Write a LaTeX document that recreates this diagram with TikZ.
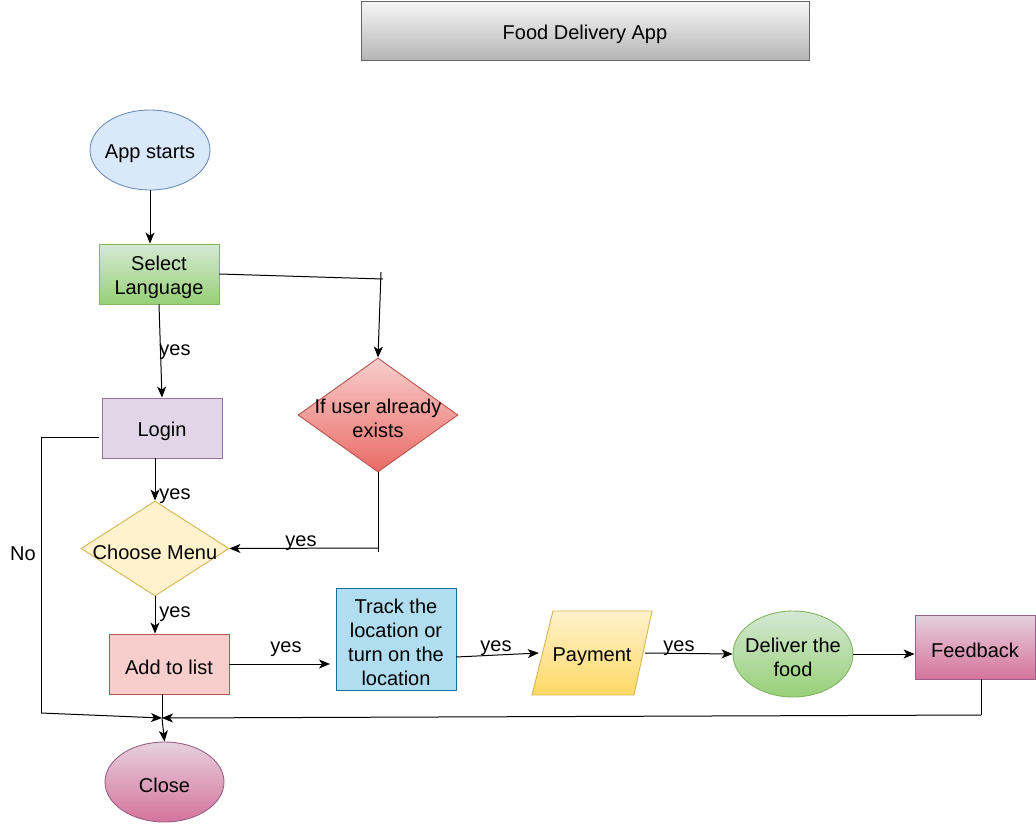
\documentclass[tikz,border=0pt]{standalone}
\usepackage{fontspec}
\setmainfont{Liberation Sans}
\usetikzlibrary{arrows.meta,shapes.geometric}
\definecolor{tiTop}{HTML}{F7F7F7}
\definecolor{tiBot}{HTML}{B5B5B5}
\definecolor{tiLine}{HTML}{666666}
\definecolor{blFill}{HTML}{DAE8FC}
\definecolor{blLine}{HTML}{6C8EBF}
\definecolor{grTop}{HTML}{D5E8D4}
\definecolor{grBot}{HTML}{97D077}
\definecolor{grLine}{HTML}{82B366}
\definecolor{puFill}{HTML}{E1D5E7}
\definecolor{puLine}{HTML}{9673A6}
\definecolor{rdTop}{HTML}{F8CECC}
\definecolor{rdBot}{HTML}{EA6B66}
\definecolor{rdFill}{HTML}{F8CECC}
\definecolor{rdLine}{HTML}{B85450}
\definecolor{ylFill}{HTML}{FFF2CC}
\definecolor{ylBot}{HTML}{FFD966}
\definecolor{ylLine}{HTML}{D6B656}
\definecolor{cyFill}{HTML}{B1DDF0}
\definecolor{cyLine}{HTML}{10739E}
\definecolor{pkTop}{HTML}{E6D0DE}
\definecolor{pkBot}{HTML}{D5739D}
\definecolor{pkLine}{HTML}{996185}
\begin{document}
\begin{tikzpicture}[x=1pt,y=-1pt,
  every node/.style={inner sep=0pt},
  txt/.style={font=\fontsize{20}{24}\selectfont, align=center, inner sep=0pt, yshift=-3.5pt},
  shp/.style={line width=0.9pt},
  rbox/.style={shp, draw, rectangle, minimum width=120pt, minimum height=60pt},
  arr/.style={line width=1pt, -{Stealth[length=11pt,width=9pt,inset=3pt]}},
  ln/.style={line width=1pt}
]
\useasboundingbox (0,0) rectangle (1036,823);

% shapes
\node[shp, draw=tiLine, rectangle, minimum width=448pt, minimum height=59pt, top color=tiTop, bottom color=tiBot] (title) at (585,30.5) {};
\node[shp, draw=blLine, fill=blFill, ellipse, minimum width=120pt, minimum height=80pt] (app) at (150,150) {};
\node[rbox, draw=grLine, top color=grTop, bottom color=grBot] (sel) at (159,274) {};
\node[rbox, draw=puLine, fill=puFill] (login) at (162,428) {};
\node[shp, draw=rdLine, top color=rdTop, bottom color=rdBot, diamond, minimum width=160pt, minimum height=114pt] (ifu) at (378,415) {};
\node[shp, draw=ylLine, fill=ylFill, diamond, minimum width=148pt, minimum height=95pt] (choose) at (155,548.5) {};
\node[rbox, draw=rdLine, fill=rdFill] (add) at (169,664) {};
\node[rbox, draw=cyLine, fill=cyFill, minimum height=102pt] (track) at (396,639) {};
\node[minimum width=106pt, minimum height=84pt] (pay) at (592,653) {};
\path[shp, draw=ylLine, top color=ylFill, bottom color=ylBot] (553,611) -- (652,611) -- (634,695) -- (532,695) -- cycle;
\node[shp, draw=grLine, top color=grTop, bottom color=grBot, ellipse, minimum width=120pt, minimum height=86pt] (del) at (793,654) {};
\node[rbox, draw=pkLine, top color=pkTop, bottom color=pkBot, minimum height=64pt] (fb) at (975,647) {};
\node[shp, draw=pkLine, top color=pkTop, bottom color=pkBot, ellipse, minimum width=119pt, minimum height=80pt] (close) at (164.5,782) {};

% texts
\node[txt] (titleT) at (title.center) {Food Delivery App};
\node[txt] (appT) at (app.center) {App starts};
\node[txt] (selT) at (sel.center) {Select\\Language};
\node[txt] (loginT) at (login.center) {Login};
\node[txt] (ifuT) at (ifu.center) {If user already\\exists};
\node[txt] (chooseT) at (choose.center) {Choose Menu};
\node[txt] (addT) at (add.center) {Add to list};
\node[txt] (trackT) at (track.center) {Track the\\location or\\turn on the\\location};
\node[txt] (payT) at (pay.center) {Payment};
\node[txt] (delT) at (del.center) {Deliver the\\food};
\node[txt] (fbT) at (fb.center) {Feedback};
\node[txt] (closeT) at (close.center) {Close};

% coordinates
\coordinate (c1) at (383,279);
\coordinate (c1t) at (381,272);
\coordinate (c2) at (378,548);
\coordinate (c2b) at (378,552);
\coordinate (c3) at (330,664);
\coordinate (c5t) at (981,679);
\coordinate (c5) at (981,715);
\coordinate (c6t) at (99,437);
\coordinate (c6) at (41,437);
\coordinate (c7) at (41,713);
\coordinate (jn) at (162,718);
\coordinate (tr) at (456,657);

% connectors
\draw[arr] (app.south) -- (app.south |- sel.north);
\draw[ln] (sel.east) -- (c1);
\draw[arr] (c1t) -- (ifu.north);
\draw[arr] (sel.south) -- (login.north);
\draw[arr] (login.south -| choose.north) -- (choose.north);
\draw[ln] (ifu.south) -- (c2b);
\draw[arr] (c2) -- (choose.east);
\draw[arr] (choose.south) -- (choose.south |- add.north);
\draw[arr] (add.east) -- (c3);
\draw[arr] (tr) -- (pay.west);
\draw[arr] (pay.east) -- (del.west);
\draw[arr] (del.east) -- (del.east -| fb.west);
\draw[ln] (c5t) -- (c5);
\draw[arr] (c5) -- (jn);
\draw[ln] (c6t) -- (c6) -- (c7);
\draw[arr] (c7) -- (jn);
\draw[ln] (add.south -| jn) -- (jn);
\draw[arr] (jn) -- (close.north);

% labels
\node[txt] (l1) at (175,349) {yes};
\node[txt] (l2) at (175,493) {yes};
\node[txt] (l3) at (175,611) {yes};
\node[txt] (l4) at (301,540) {yes};
\node[txt] (l5) at (286,646) {yes};
\node[txt] (l6) at (496,645) {yes};
\node[txt] (l7) at (679,645) {yes};
\node[txt] (l8) at (23,550) {No};
\end{tikzpicture}
\end{document}
